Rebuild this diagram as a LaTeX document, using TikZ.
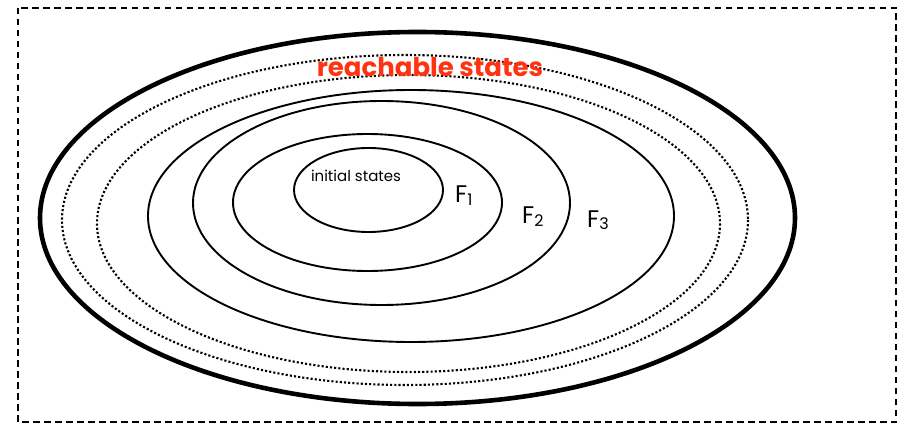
\documentclass[tikz,border=0pt]{standalone}
\usepackage{fontspec}
\newfontfamily\comic{Poppins}
\definecolor{reachred}{HTML}{FF3311}
\begin{document}
\begin{tikzpicture}[x=1pt,y=-1pt,
  solidring/.style={draw=black,line width=1.9pt},
  thickring/.style={draw=black,line width=4.6pt},
  dotring/.style={draw=black,line width=2.1pt,dash pattern=on 2.1pt off 2.1pt},
  frame/.style={draw=black,line width=2pt,dash pattern=on 6.5pt off 4.5pt},
  flabel/.style={anchor=base west,inner sep=0pt,font=\comic\fontsize{24}{26}\selectfont}]
\useasboundingbox (0,0) rectangle (903,425);
\draw[frame] (18,8) rectangle (896,422);
% rings
\draw[thickring] (417.5,218) ellipse [x radius=377.5, y radius=186];
\draw[dotring] (405,220) ellipse [x radius=343, y radius=165];
\draw[dotring] (408.5,223.5) ellipse [x radius=311.5, y radius=148.5];
\draw[solidring] (411,216) ellipse [x radius=263, y radius=126];
\draw[solidring] (381.5,203) ellipse [x radius=188.5, y radius=102];
\draw[solidring] (367.5,202.5) ellipse [x radius=134.5, y radius=68.5];
\draw[solidring] (368.5,190) ellipse [x radius=74.5, y radius=42];
% labels
\node[text=reachred,inner sep=0pt,font=\comic\bfseries\fontsize{26}{28}\selectfont] (reach) at (430,67) {reachable states};
\node[inner sep=0pt,font=\comic\fontsize{15}{17}\selectfont] (init) at (356,176) {initial states};
\node[flabel] (f1) at (455,203) {F\raisebox{-2pt}{\fontsize{16}{16}\selectfont 1}};
\node[flabel] (f2) at (522,224) {F\raisebox{-2pt}{\fontsize{16}{16}\selectfont 2}};
\node[flabel] (f3) at (587,227) {F\raisebox{-2pt}{\fontsize{16}{16}\selectfont 3}};
\end{tikzpicture}
\end{document}
